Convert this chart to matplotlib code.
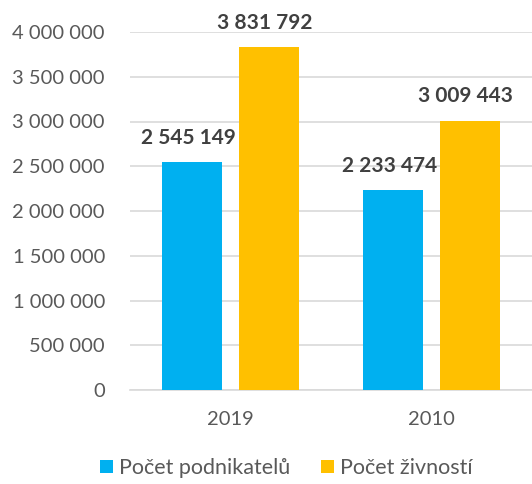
import matplotlib
matplotlib.use("Agg")
import matplotlib.pyplot as plt
import numpy as np

categories = ["2019", "2010"]
podnikatelu = [2545149, 2233474]
zivnosti = [3831792, 3009443]
series_names = ["Počet podnikatelů", "Počet živností"]
yticks = [0, 500000, 1000000, 1500000, 2000000, 2500000, 3000000, 3500000, 4000000]

plt.rcParams['font.family'] = ['Lato', 'DejaVu Sans']

def fmt(v):
    return f"{v:,}".replace(",", " ")

fig = plt.figure(figsize=(5.32, 4.84), dpi=100)
ax = fig.add_axes([130/532, 94/484, 402/532, 358/484])

x = np.arange(len(categories))
w = 0.3
off = 0.19
b1 = ax.bar(x - off, podnikatelu, w, color="#00B0F0", label=series_names[0], zorder=3)
b2 = ax.bar(x + off, zivnosti, w, color="#FFC000", label=series_names[1], zorder=3)

for bars, vals in ((b1, podnikatelu), (b2, zivnosti)):
    for r, v in zip(bars, vals):
        ax.text(r.get_x() + r.get_width()/2 - 0.02, v + 270000, fmt(v), ha="center", va="center",
                fontsize=15, fontweight="bold", color="#404040", clip_on=False)

ax.set_xlim(-0.5, 1.5)
ax.set_ylim(0, 4000000)
ax.set_yticks(yticks)
ax.set_yticklabels([fmt(t) for t in yticks])
ax.set_xticks(x)
ax.set_xticklabels(categories)
ax.tick_params(axis="both", length=0, labelsize=14.5, colors="#595959")
ax.tick_params(axis="y", pad=18)
ax.tick_params(axis="x", pad=15)
ax.grid(axis="y", color="#D9D9D9", linewidth=1.2, zorder=0)
for s in ["top", "right", "left"]:
    ax.spines[s].set_visible(False)
ax.spines["bottom"].set_color("#D9D9D9")
ax.spines["bottom"].set_linewidth(1.2)

leg = fig.legend(handles=[b1, b2], loc="center", bbox_to_anchor=(286.5/532, 16/484),
                 ncol=2, frameon=False, fontsize=15.5, handlelength=0.6, handleheight=0.6,
                 handletextpad=0.3, columnspacing=1.4, labelcolor="#595959")

fig.savefig("out.png", dpi=100)
